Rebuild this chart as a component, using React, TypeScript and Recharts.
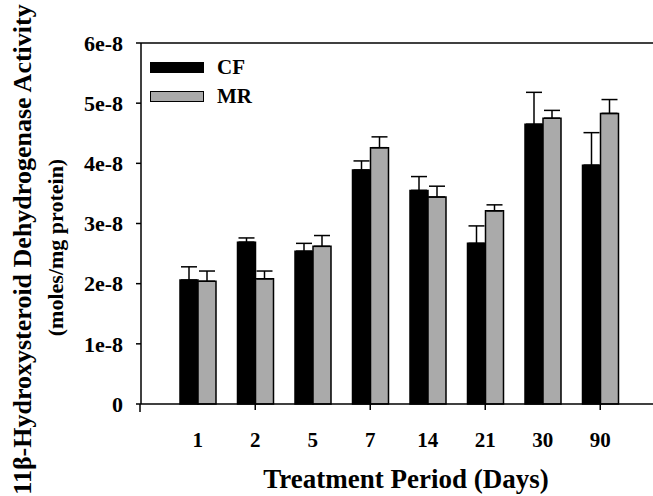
import React from 'react';
import {
  BarChart,
  Bar,
  XAxis,
  YAxis,
  ErrorBar,
  ReferenceLine,
} from 'recharts';

const days = ['1', '2', '5', '7', '14', '21', '30', '90'];
const cfValues = [2.06e-8, 2.69e-8, 2.54e-8, 3.89e-8, 3.55e-8, 2.67e-8, 4.65e-8, 3.97e-8];
const cfErrors = [0.22e-8, 0.07e-8, 0.13e-8, 0.15e-8, 0.23e-8, 0.29e-8, 0.53e-8, 0.54e-8];
const mrValues = [2.04e-8, 2.08e-8, 2.62e-8, 4.26e-8, 3.44e-8, 3.21e-8, 4.75e-8, 4.83e-8];
const mrErrors = [0.17e-8, 0.13e-8, 0.18e-8, 0.18e-8, 0.18e-8, 0.10e-8, 0.13e-8, 0.23e-8];
const yTicks = [0, 1e-8, 2e-8, 3e-8, 4e-8, 5e-8, 6e-8];
const yTickLabels = ['0', '1e-8', '2e-8', '3e-8', '4e-8', '5e-8', '6e-8'];

const series = [
  { key: 'cf', name: 'CF', color: '#000000' },
  { key: 'mr', name: 'MR', color: '#aaaaaa' },
];

// error bars only go up, so low side is 0
const data = days.map((d, i) => ({
  day: d,
  cf: cfValues[i],
  cfErr: [0, cfErrors[i]],
  mr: mrValues[i],
  mrErr: [0, mrErrors[i]],
}));

const FONT = '"Liberation Serif", "Times New Roman", serif';
const TICK_MARGIN = 22;

const XTick = ({ x, y, payload, index }: any) => {
  const axisY = y - TICK_MARGIN - 6;
  return (
    <g>
      {/* original only marks every other category */}
      {index % 2 === 1 && (
        <line x1={x} y1={axisY} x2={x} y2={axisY + 6} stroke="#000" strokeWidth={1.5} />
      )}
      <text
        x={x}
        y={y}
        dy="0.71em"
        textAnchor="middle"
        fontFamily={FONT}
        fontWeight="bold"
        fontSize={21}
        fill="#000"
      >
        {payload.value}
      </text>
    </g>
  );
};

const XTitle = ({ viewBox }: any) => (
  <g>
    {/* y axis pokes a little below the x axis in the original */}
    <line x1={viewBox.x - 1} y1={viewBox.y} x2={viewBox.x - 1} y2={viewBox.y + 8} stroke="#000" strokeWidth={1.5} />
    <text
      x={viewBox.x + viewBox.width / 2 + 9}
      y={viewBox.y + 84}
      textAnchor="middle"
      fontFamily={FONT}
      fontWeight="bold"
      fontSize={27}
      fill="#000"
    >
      Treatment Period (Days)
    </text>
  </g>
);

const YTitle = ({ viewBox }: any) => {
  const cy = viewBox.y + viewBox.height / 2 + 26;
  const common = {
    textAnchor: 'middle' as const,
    dominantBaseline: 'central' as const,
    fontFamily: FONT,
    fontWeight: 'bold',
    fill: '#000',
  };
  return (
    <g>
      <text x={22} y={cy} transform={`rotate(-90 22 ${cy})`} fontSize={26} {...common}>
        11β-Hydroxysteroid Dehydrogenase Activity
      </text>
      <text x={55} y={cy - 2} transform={`rotate(-90 55 ${cy - 2})`} fontSize={22} {...common}>
        (moles/mg protein)
      </text>
    </g>
  );
};

const LegendBox = () => (
  <div
    style={{
      position: 'absolute',
      left: 150,
      top: 53,
      fontFamily: FONT,
      fontWeight: 'bold',
      fontSize: 21,
    }}
  >
    {series.map((s) => (
      <div key={s.key} style={{ display: 'flex', alignItems: 'center', height: 29 }}>
        <div
          style={{
            width: 52,
            height: 9,
            background: s.color,
            border: '1.5px solid #000',
            marginRight: 13,
          }}
        />
        <span>{s.name}</span>
      </div>
    ))}
  </div>
);

export default function App() {
  return (
    <div style={{ position: 'absolute', left: 0, top: 0, width: 653, height: 496, overflow: 'hidden', background: '#fff' }}>
      <BarChart
        width={653}
        height={496}
        data={data}
        margin={{ top: 43, right: 0, bottom: 0, left: 0 }}
        barCategoryGap={11}
        barGap={0}
      >
        <XAxis
          dataKey="day"
          height={92}
          padding={{ left: 28, right: 24 }}
          axisLine={{ stroke: '#000', strokeWidth: 1.5 }}
          tickLine={false}
          tickSize={6}
          tickMargin={TICK_MARGIN}
          tick={<XTick />}
          interval={0}
          label={<XTitle />}
        />
        <YAxis
          width={141}
          domain={[0, 6e-8]}
          ticks={yTicks}
          interval={0}
          tickFormatter={(v: number) => yTickLabels[yTicks.indexOf(v)]}
          axisLine={{ stroke: '#000', strokeWidth: 1.5 }}
          tickLine={{ stroke: '#000', strokeWidth: 1.5 }}
          tickSize={5}
          tickMargin={13}
          tick={{ fontFamily: FONT, fontWeight: 'bold', fontSize: 22, fill: '#000' }}
          label={<YTitle />}
        />
        <ReferenceLine y={6e-8} stroke="#000" strokeWidth={1.5} />
        {series.map((s) => (
          <Bar
            key={s.key}
            dataKey={s.key}
            name={s.name}
            fill={s.color}
            stroke="#000"
            strokeWidth={1.5}
            isAnimationActive={false}
          >
            <ErrorBar dataKey={`${s.key}Err`} direction="y" width={8} stroke="#000" strokeWidth={1.5} />
          </Bar>
        ))}
      </BarChart>
      <LegendBox />
    </div>
  );
}
